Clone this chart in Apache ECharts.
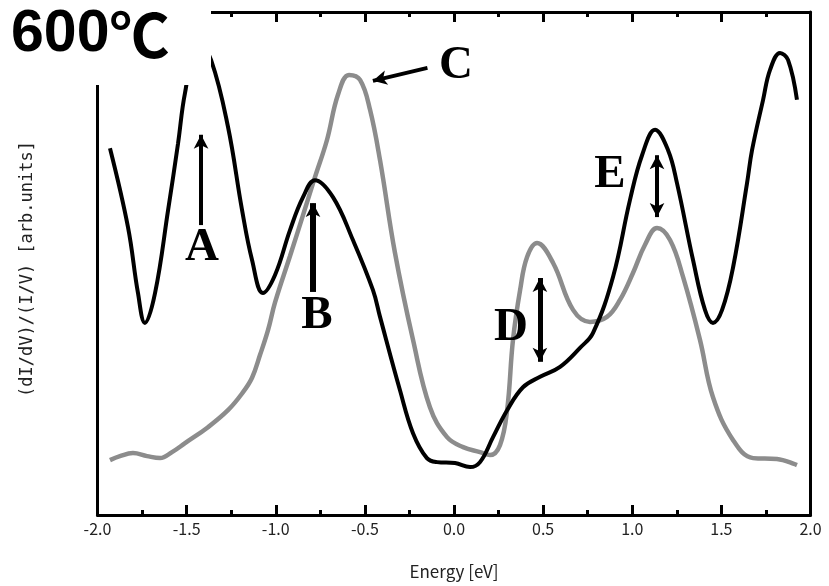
<!DOCTYPE html>
<html>
<head>
<meta charset="utf-8">
<script src="https://cdn.jsdelivr.net/npm/echarts@6/dist/echarts.min.js"></script>
<style>html,body{margin:0;padding:0;background:#fff}#c{width:829px;height:586px}</style>
</head>
<body>
<div id="c"></div>
<script>
// Energy [eV] and normalized (dI/dV)/(I/V) [arb. units]
const blackE = [-1.930,-1.829,-1.773,-1.734,-1.677,-1.604,-1.548,-1.509,-1.436,-1.363,-1.268,-1.189,-1.133,-1.072,-1.004,-0.920,-0.847,-0.780,-0.679,-0.567,-0.455,-0.415,-0.303,-0.230,-0.152,-0.095,0.006,0.090,0.146,0.219,0.298,0.387,0.483,0.595,0.707,0.780,0.892,0.987,1.055,1.128,1.201,1.251,1.341,1.408,1.453,1.504,1.566,1.644,1.672,1.734,1.773,1.829,1.874,1.924];
const blackV = [72.7,56.9,43.7,37.7,43.7,60.3,73.7,83.8,94.4,90.4,77.0,60.3,50.3,43.7,47.3,56.3,62.9,66.3,62.9,54.3,44.3,38.9,24.2,15.6,10.6,9.8,9.6,8.8,9.8,14.8,20.2,24.8,26.9,28.9,32.7,35.7,46.9,62.3,71.3,76.4,72.3,65.7,50.3,40.3,37.7,40.3,48.9,65.7,72.3,82.4,88.4,91.8,90.4,82.4];
const grayE = [-1.930,-1.874,-1.801,-1.722,-1.649,-1.582,-1.509,-1.380,-1.268,-1.188,-1.133,-1.088,-1.043,-1.004,-0.920,-0.847,-0.780,-0.713,-0.651,-0.589,-0.527,-0.471,-0.415,-0.331,-0.230,-0.135,-0.039,0.051,0.146,0.202,0.258,0.298,0.331,0.371,0.410,0.466,0.556,0.668,0.763,0.858,0.931,1.004,1.071,1.139,1.212,1.285,1.380,1.453,1.566,1.678,1.812,1.924];
const grayV = [10.2,11.0,11.6,11.0,10.6,11.8,13.6,16.8,20.2,23.6,26.7,31.3,36.3,41.8,51.1,59.3,66.9,74.3,83.4,87.4,86.4,80.4,70.3,51.7,34.3,20.8,14.8,12.8,11.8,11.2,13.2,20.2,34.3,44.3,50.9,53.7,49.7,40.3,37.9,38.9,42.3,47.7,53.3,56.7,54.3,46.9,34.3,22.8,14.2,10.6,10.4,9.2];

const xTicks = [-2.0,-1.5,-1.0,-0.5,0.0,0.5,1.0,1.5,2.0];
const letterNames = ['A','B','C','D','E'];
const letterE = [-1.414,-0.769,0.011,0.320,0.875];
const letterV = [52.7,39.1,89.2,36.7,67.3];
// arrows: start (E,V) -> end (E,V)
const arrowFromE = [-1.419,-0.791,-0.149,0.482,1.139];
const arrowFromV = [57.3,43.9,88.8,46.7,71.3];
const arrowToE = [-1.419,-0.791,-0.455,0.482,1.139];
const arrowToV = [75.4,61.7,86.2,29.9,58.9];
const arrowDouble = [false,false,false,true,true];
const arrowWidth = [4,6,4,5,4];

const blackData = blackE.map((e,i)=>[e,blackV[i]]);
const grayData = grayE.map((e,i)=>[e,grayV[i]]);
const letterData = letterNames.map((n,i)=>[letterE[i],letterV[i],n]);
const arrowData = arrowFromE.map((e,i)=>[
  {coord:[e,arrowFromV[i]], symbol: arrowDouble[i]?'arrow':'none', symbolSize:[11,14],
   lineStyle:{width:arrowWidth[i],color:'#000',type:'solid'}},
  {coord:[arrowToE[i],arrowToV[i]], symbol:'arrow', symbolSize:[11,14]}
]);

const chart = echarts.init(document.getElementById('c'), null, {renderer:'canvas'});
const tickFont = {fontFamily:'Noto Sans CJK JP, DejaVu Sans, sans-serif', fontSize:16, color:'#222'};
function xAxisBase(pos){
  return {
    type:'value', min:-2, max:2, interval:0.5, position:pos,
    axisLine:{show:true, onZero:false, lineStyle:{color:'#000', width:3}},
    axisTick:{show:true, inside:true, length:10, lineStyle:{color:'#000', width:3}},
    minorTick:{show:true, splitNumber:2, length:5, lineStyle:{color:'#000', width:3}},
    splitLine:{show:false}, minorSplitLine:{show:false}
  };
}
const xBottom = Object.assign(xAxisBase('bottom'), {
  name:'Energy [eV]', nameLocation:'middle', nameGap:48,
  nameTextStyle:Object.assign({}, tickFont, {fontSize:17}),
  axisLabel:Object.assign({show:true, margin:6, formatter:v=>{
    const t = xTicks.find(k=>Math.abs(k-v)<1e-9); return t===undefined?'':t.toFixed(1);}}, tickFont)
});
const xTop = Object.assign(xAxisBase('top'), {axisLabel:{show:false}});

chart.setOption({
  animation:false,
  backgroundColor:'#fff',
  grid:{left:97.5, right:18.5, top:12, bottom:71, containLabel:false, outerBoundsMode:'none'},
  xAxis:[xBottom, xTop],
  yAxis:[
    {type:'value', min:-0.8, max:100, position:'left',
     axisLine:{show:true, onZero:false, lineStyle:{color:'#000', width:3}},
     axisTick:{show:false}, axisLabel:{show:false}, splitLine:{show:false}},
    {type:'value', min:-0.8, max:100, position:'right',
     axisLine:{show:true, onZero:false, lineStyle:{color:'#000', width:3}},
     axisTick:{show:false}, axisLabel:{show:false}, splitLine:{show:false}}
  ],
  series:[
    {type:'line', name:'gray', data:grayData, smooth:0.4, showSymbol:false, z:2,
     lineStyle:{color:'#8c8c8c', width:4.5}},
    {type:'line', name:'black', data:blackData, smooth:0.4, showSymbol:false, z:3,
     lineStyle:{color:'#000', width:4},
     markLine:{silent:true, animation:false, label:{show:false}, data:arrowData}},
    {type:'scatter', name:'letters', data:letterData, symbol:'circle', symbolSize:1, z:5,
     itemStyle:{color:'#fff', opacity:0},
     label:{show:true, position:'inside', formatter:p=>p.data[2], opacity:1,
       fontFamily:'Liberation Serif, Times New Roman, serif', fontWeight:'bold', fontSize:47,
       color:'#000', textBorderWidth:0}}
  ],
  graphic:[
    {type:'text', x:28, y:269, rotation:Math.PI/2, z:50,
     style:{text:'(dI/dV)/(I/V) [arb.units]', fontFamily:'DejaVu Sans Mono, monospace', fontSize:17,
       fill:'#222', align:'center', verticalAlign:'middle'}},
    {type:'rect', left:0, top:0, z:100, shape:{width:211, height:85}, style:{fill:'#fff'}},
    {type:'text', left:11, top:5, z:101,
     style:{text:'{a|600}{b|℃}', fill:'#000',
       rich:{
         a:{fontFamily:'Liberation Sans', fontWeight:'bold', fontSize:59, fill:'#000'},
         b:{fontFamily:'Noto Sans CJK JP', fontWeight:'bold', fontSize:60, fill:'#000'}
       }}}
  ]
});
</script>
</body>
</html>
